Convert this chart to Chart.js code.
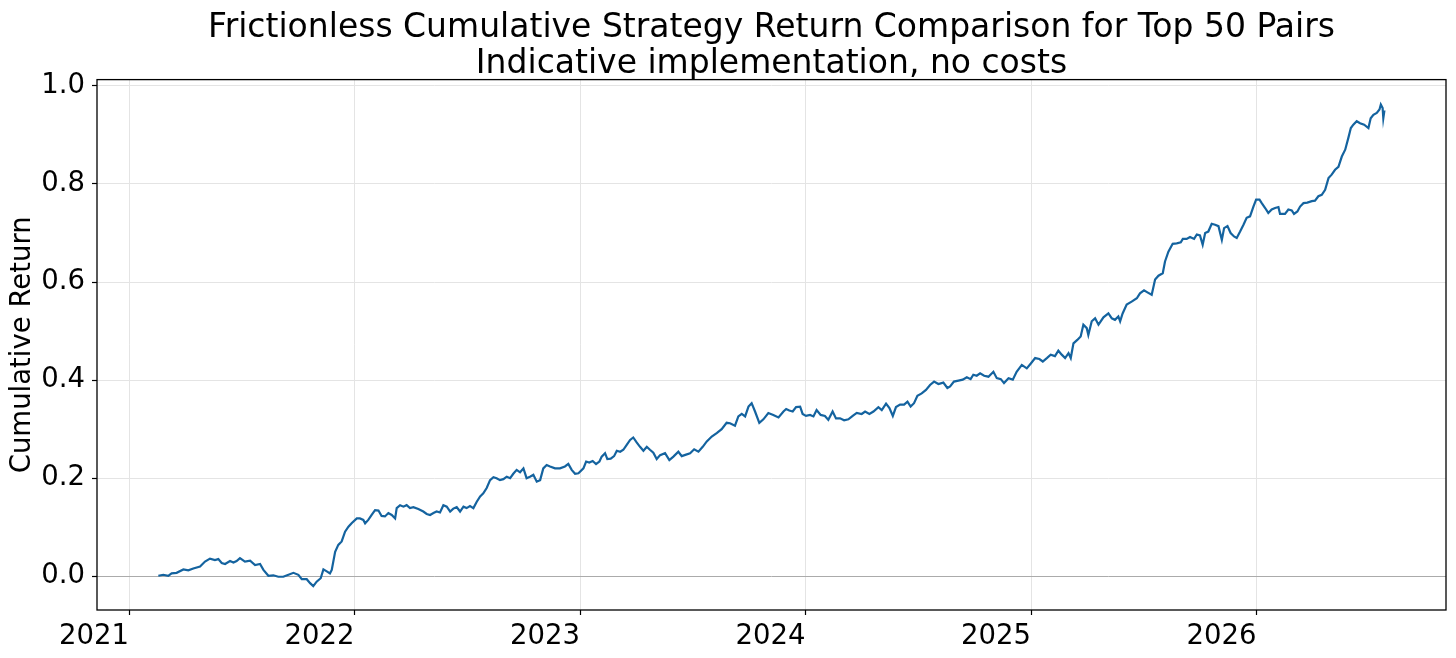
<!DOCTYPE html>
<html>
<head>
<meta charset="utf-8">
<script src="https://cdn.jsdelivr.net/npm/chart.js@4.4.1/dist/chart.umd.min.js"></script>
<style>
  html, body { margin: 0; padding: 0; background: #fff; }
  canvas { display: block; }
</style>
</head>
<body>
<canvas id="returnChart" width="1456" height="658"></canvas>
<script>
// ── data (dates as decimal years) ──
const dates = [
  2021.130, 2021.152, 2021.174, 2021.189, 2021.211, 2021.241, 2021.263, 2021.285, 2021.315, 2021.337,
  2021.359, 2021.381, 2021.396, 2021.411, 2021.426, 2021.448, 2021.463, 2021.477, 2021.492, 2021.514,
  2021.537, 2021.559, 2021.581, 2021.596, 2021.618, 2021.640, 2021.662, 2021.684, 2021.707, 2021.729,
  2021.751, 2021.766, 2021.788, 2021.803, 2021.817, 2021.832, 2021.850, 2021.862, 2021.877, 2021.891,
  2021.899, 2021.914, 2021.928, 2021.943, 2021.958, 2021.973, 2021.987, 2022.010,
  2022.024, 2022.039, 2022.047, 2022.061, 2022.076, 2022.091, 2022.106, 2022.120, 2022.135, 2022.150,
  2022.165, 2022.180, 2022.187, 2022.202, 2022.217, 2022.231, 2022.246, 2022.261, 2022.283, 2022.305,
  2022.320, 2022.335, 2022.350, 2022.364, 2022.379, 2022.394, 2022.409, 2022.424, 2022.438, 2022.453,
  2022.468, 2022.483, 2022.497, 2022.512, 2022.527, 2022.542, 2022.557, 2022.571, 2022.586, 2022.601,
  2022.616, 2022.630, 2022.645, 2022.660, 2022.675, 2022.690, 2022.704, 2022.719, 2022.734, 2022.749,
  2022.763, 2022.778, 2022.793, 2022.808, 2022.823, 2022.837, 2022.852, 2022.867, 2022.889, 2022.911,
  2022.933, 2022.948,
  2022.963, 2022.978, 2022.993, 2023.015, 2023.027, 2023.041, 2023.056, 2023.071, 2023.086, 2023.096,
  2023.111, 2023.121, 2023.136, 2023.151, 2023.163, 2023.178, 2023.192, 2023.207, 2023.222, 2023.236,
  2023.251, 2023.266, 2023.281, 2023.296, 2023.310, 2023.325, 2023.340, 2023.355, 2023.377, 2023.396,
  2023.414, 2023.436, 2023.451, 2023.470, 2023.488, 2023.506, 2023.525, 2023.544, 2023.562, 2023.584,
  2023.606, 2023.628, 2023.650, 2023.665, 2023.687, 2023.702, 2023.717, 2023.732, 2023.747, 2023.761,
  2023.776, 2023.795, 2023.813, 2023.835, 2023.857, 2023.880,
  2023.902, 2023.914, 2023.928, 2023.943, 2023.958, 2023.976, 2023.987, 2024.002, 2024.020, 2024.035,
  2024.049, 2024.067, 2024.086, 2024.101, 2024.120, 2024.135, 2024.153, 2024.171, 2024.190, 2024.209,
  2024.227, 2024.249, 2024.264, 2024.283, 2024.301, 2024.323, 2024.338, 2024.357, 2024.372, 2024.387,
  2024.401, 2024.419, 2024.437, 2024.452, 2024.466, 2024.481, 2024.496, 2024.515, 2024.534, 2024.552,
  2024.570, 2024.589, 2024.611, 2024.629, 2024.641, 2024.658, 2024.678, 2024.697, 2024.715, 2024.732,
  2024.744, 2024.759, 2024.774, 2024.792, 2024.811,
  2024.833, 2024.848, 2024.866, 2024.880, 2024.900, 2024.919, 2024.936, 2024.959, 2024.981, 2024.999,
  2025.018, 2025.037, 2025.052, 2025.070, 2025.087, 2025.106, 2025.121, 2025.136, 2025.151, 2025.166,
  2025.176, 2025.188, 2025.205, 2025.220, 2025.232, 2025.247, 2025.254, 2025.269, 2025.284, 2025.299,
  2025.321, 2025.343, 2025.358, 2025.372, 2025.387, 2025.395, 2025.406, 2025.424, 2025.446, 2025.469,
  2025.483, 2025.501, 2025.516, 2025.535, 2025.550, 2025.565, 2025.584, 2025.594, 2025.609, 2025.628,
  2025.646, 2025.664, 2025.673, 2025.690, 2025.705, 2025.723, 2025.735,
  2025.749, 2025.761, 2025.772, 2025.786, 2025.801, 2025.816, 2025.831, 2025.846, 2025.856, 2025.871,
  2025.885, 2025.900, 2025.912, 2025.927, 2025.942, 2025.956, 2025.971, 2025.986, 2025.998, 2026.013,
  2026.023, 2026.038, 2026.052, 2026.067, 2026.082, 2026.097, 2026.104, 2026.126, 2026.141, 2026.156,
  2026.166, 2026.181, 2026.193, 2026.208, 2026.225, 2026.245, 2026.259, 2026.274, 2026.289, 2026.304,
  2026.319, 2026.333, 2026.348, 2026.363, 2026.378, 2026.393, 2026.407, 2026.418, 2026.429, 2026.444,
  2026.459, 2026.477, 2026.496, 2026.506, 2026.518, 2026.533, 2026.545, 2026.551, 2026.559, 2026.562,
  2026.567
];

const cumulativeReturn = [
  0.001, 0.003, 0.001, 0.006, 0.007, 0.014, 0.012, 0.016, 0.020, 0.030,
  0.036, 0.033, 0.035, 0.027, 0.025, 0.031, 0.028, 0.031, 0.037, 0.030,
  0.032, 0.023, 0.025, 0.013, 0.001, 0.002, -0.001, -0.001, 0.003, 0.007,
  0.003, -0.006, -0.006, -0.014, -0.020, -0.011, -0.004, 0.014, 0.010, 0.006,
  0.013, 0.050, 0.064, 0.071, 0.091, 0.101, 0.108, 0.118,
  0.118, 0.115, 0.108, 0.115, 0.125, 0.135, 0.134, 0.123, 0.122, 0.129,
  0.125, 0.118, 0.139, 0.145, 0.142, 0.145, 0.139, 0.141, 0.137, 0.132,
  0.127, 0.125, 0.129, 0.132, 0.130, 0.145, 0.142, 0.132, 0.138, 0.141,
  0.132, 0.142, 0.139, 0.143, 0.139, 0.152, 0.163, 0.169, 0.180, 0.196,
  0.202, 0.200, 0.196, 0.198, 0.203, 0.200, 0.209, 0.217, 0.212, 0.220,
  0.200, 0.203, 0.207, 0.193, 0.196, 0.220, 0.227, 0.224, 0.220, 0.220,
  0.224, 0.229,
  0.217, 0.209, 0.210, 0.220, 0.234, 0.232, 0.235, 0.229, 0.234, 0.244,
  0.251, 0.239, 0.240, 0.245, 0.256, 0.254, 0.258, 0.268, 0.278, 0.283,
  0.273, 0.264, 0.256, 0.264, 0.258, 0.252, 0.239, 0.247, 0.251, 0.237,
  0.244, 0.254, 0.245, 0.248, 0.251, 0.259, 0.254, 0.264, 0.275, 0.285,
  0.292, 0.300, 0.313, 0.312, 0.307, 0.326, 0.331, 0.326, 0.346, 0.353,
  0.336, 0.313, 0.320, 0.333, 0.329, 0.324,
  0.336, 0.341, 0.338, 0.336, 0.345, 0.346, 0.331, 0.327, 0.329, 0.326,
  0.339, 0.329, 0.327, 0.319, 0.336, 0.322, 0.322, 0.318, 0.320, 0.327,
  0.333, 0.331, 0.336, 0.331, 0.336, 0.345, 0.339, 0.352, 0.343, 0.327,
  0.345, 0.350, 0.350, 0.356, 0.346, 0.353, 0.368, 0.373, 0.380, 0.390,
  0.397, 0.392, 0.395, 0.384, 0.387, 0.397, 0.399, 0.401, 0.406, 0.402,
  0.411, 0.409, 0.414, 0.409, 0.407,
  0.417, 0.404, 0.402, 0.394, 0.404, 0.401, 0.417, 0.431, 0.424, 0.434,
  0.445, 0.443, 0.438, 0.445, 0.452, 0.449, 0.460, 0.452, 0.445, 0.455,
  0.445, 0.475, 0.482, 0.489, 0.513, 0.506, 0.492, 0.520, 0.526, 0.513,
  0.528, 0.536, 0.526, 0.523, 0.530, 0.520, 0.536, 0.554, 0.560, 0.567,
  0.577, 0.583, 0.579, 0.574, 0.605, 0.613, 0.618, 0.642, 0.662, 0.678,
  0.679, 0.681, 0.688, 0.688, 0.692, 0.688, 0.697,
  0.695, 0.676, 0.700, 0.703, 0.719, 0.717, 0.714, 0.686, 0.710, 0.714,
  0.700, 0.693, 0.690, 0.703, 0.717, 0.731, 0.734, 0.754, 0.768, 0.768,
  0.761, 0.751, 0.741, 0.748, 0.751, 0.753, 0.739, 0.739, 0.748, 0.746,
  0.739, 0.744, 0.754, 0.761, 0.762, 0.765, 0.766, 0.775, 0.778, 0.788,
  0.812, 0.819, 0.829, 0.835, 0.856, 0.870, 0.894, 0.914, 0.921, 0.928,
  0.924, 0.921, 0.914, 0.934, 0.941, 0.945, 0.952, 0.962, 0.955, 0.934,
  0.950
];

const xTickYears = [2021, 2022, 2023, 2024, 2025, 2026];
const yTickValues = [0.0, 0.2, 0.4, 0.6, 0.8, 1.0];

const titleLines = [
  'Frictionless Cumulative Strategy Return Comparison for Top 50 Pairs',
  'Indicative implementation, no costs'
];

// ── styles ──
const FONT = 'DejaVu Sans';
const LINE_COLOR = '#14639f';
const GRID_COLOR = '#e4e4e4';
const ZERO_COLOR = '#ababab';

// black frame round the plot area, like matplotlib spines
const framePlugin = {
  id: 'frame',
  afterDraw(chart) {
    const { ctx, chartArea: a } = chart;
    ctx.save();
    ctx.strokeStyle = '#000';
    ctx.lineWidth = 1.3;
    ctx.strokeRect(a.left, a.top, a.right - a.left, a.bottom - a.top);
    ctx.restore();
  }
};

const points = dates.map((d, i) => ({ x: d, y: cumulativeReturn[i] }));

new Chart(document.getElementById('returnChart').getContext('2d'), {
  type: 'line',
  data: {
    datasets: [{
      label: 'Cumulative Return',
      data: points,
      borderColor: LINE_COLOR,
      borderWidth: 2.2,
      pointRadius: 0,
      tension: 0,
      fill: false
    }]
  },
  options: {
    responsive: false,
    devicePixelRatio: 1,
    animation: false,
    layout: { padding: { left: 0, right: 10, top: 0, bottom: 0 } },
    plugins: {
      legend: { display: false },
      tooltip: { enabled: false },
      title: {
        display: true,
        text: titleLines,
        fullSize: false,
        color: '#000',
        font: { family: FONT, size: 33, weight: 'normal', lineHeight: 1.1 },
        padding: { top: 10, bottom: -3 }
      }
    },
    scales: {
      x: {
        type: 'linear',
        min: 2020.858,
        max: 2026.840,
        afterBuildTicks: s => { s.ticks = xTickYears.map(v => ({ value: v })); },
        afterFit: s => { s.height = 48; },
        grid: { color: GRID_COLOR, lineWidth: 1, tickLength: 5, tickColor: '#000', tickWidth: 1.2 },
        border: { display: false },
        ticks: {
          color: '#000',
          align: 'end',
          padding: 5,
          maxRotation: 0,
          font: { family: FONT, size: 27.5 },
          callback: v => String(v)
        }
      },
      y: {
        min: -0.0688,
        max: 1.0129,
        afterBuildTicks: s => { s.ticks = yTickValues.map(v => ({ value: v })); },
        afterFit: s => { s.width = 97; },
        grid: {
          color: c => (c.tick && c.tick.value === 0 ? ZERO_COLOR : GRID_COLOR),
          lineWidth: 1,
          tickLength: 5,
          tickColor: '#000',
          tickWidth: 1.2
        },
        border: { display: false },
        title: {
          display: true,
          text: 'Cumulative Return',
          color: '#000',
          font: { family: FONT, size: 27.5 },
          padding: { top: 6, bottom: 0 }
        },
        ticks: {
          color: '#000',
          padding: 7,
          font: { family: FONT, size: 27.5 },
          callback: v => Number(v).toFixed(1)
        }
      }
    }
  },
  plugins: [framePlugin]
});
</script>
</body>
</html>
